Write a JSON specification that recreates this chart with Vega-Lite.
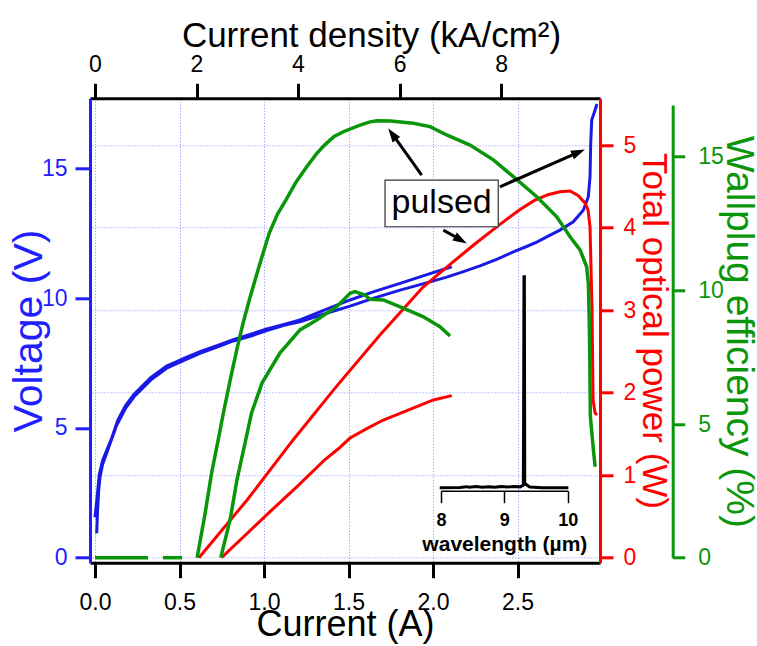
{
  "$schema": "https://vega.github.io/schema/vega-lite/v6.json",
  "width": 510,
  "height": 464.4,
  "autosize": {"type": "none"},
  "padding": {"left": 90, "top": 98.3, "right": 157, "bottom": 83.3},
  "background": "white",
  "config": {
    "font": "Liberation Sans",
    "view": {"stroke": null},
    "axis": {"labelFont": "Liberation Sans", "titleFont": "Liberation Sans", "labelFlush": false, "labelOverlap": false, "grid": false, "titleFontWeight": "normal"}
  },
  "datasets": {
    "curves": [
      {"q": "V", "run": "pulsed", "I": 0.010, "y": 0.94},
      {"q": "V", "run": "pulsed", "I": 0.015, "y": 1.8},
      {"q": "V", "run": "pulsed", "I": 0.022, "y": 2.6},
      {"q": "V", "run": "pulsed", "I": 0.030, "y": 3.12},
      {"q": "V", "run": "pulsed", "I": 0.045, "y": 3.6},
      {"q": "V", "run": "pulsed", "I": 0.069, "y": 4.02},
      {"q": "V", "run": "pulsed", "I": 0.089, "y": 4.40},
      {"q": "V", "run": "pulsed", "I": 0.128, "y": 5.10},
      {"q": "V", "run": "pulsed", "I": 0.180, "y": 5.75},
      {"q": "V", "run": "pulsed", "I": 0.231, "y": 6.20},
      {"q": "V", "run": "pulsed", "I": 0.331, "y": 6.85},
      {"q": "V", "run": "pulsed", "I": 0.424, "y": 7.30},
      {"q": "V", "run": "pulsed", "I": 0.533, "y": 7.62},
      {"q": "V", "run": "pulsed", "I": 0.621, "y": 7.87},
      {"q": "V", "run": "pulsed", "I": 0.730, "y": 8.13},
      {"q": "V", "run": "pulsed", "I": 0.818, "y": 8.35},
      {"q": "V", "run": "pulsed", "I": 0.927, "y": 8.55},
      {"q": "V", "run": "pulsed", "I": 1.016, "y": 8.75},
      {"q": "V", "run": "pulsed", "I": 1.124, "y": 8.96},
      {"q": "V", "run": "pulsed", "I": 1.213, "y": 9.09},
      {"q": "V", "run": "pulsed", "I": 1.360, "y": 9.40},
      {"q": "V", "run": "pulsed", "I": 1.509, "y": 9.69},
      {"q": "V", "run": "pulsed", "I": 1.650, "y": 10.00},
      {"q": "V", "run": "pulsed", "I": 1.805, "y": 10.31},
      {"q": "V", "run": "pulsed", "I": 1.950, "y": 10.57},
      {"q": "V", "run": "pulsed", "I": 2.081, "y": 10.81},
      {"q": "V", "run": "pulsed", "I": 2.180, "y": 11.02},
      {"q": "V", "run": "pulsed", "I": 2.278, "y": 11.24},
      {"q": "V", "run": "pulsed", "I": 2.380, "y": 11.50},
      {"q": "V", "run": "pulsed", "I": 2.475, "y": 11.78},
      {"q": "V", "run": "pulsed", "I": 2.550, "y": 11.98},
      {"q": "V", "run": "pulsed", "I": 2.614, "y": 12.16},
      {"q": "V", "run": "pulsed", "I": 2.690, "y": 12.42},
      {"q": "V", "run": "pulsed", "I": 2.751, "y": 12.62},
      {"q": "V", "run": "pulsed", "I": 2.830, "y": 12.94},
      {"q": "V", "run": "pulsed", "I": 2.889, "y": 13.39},
      {"q": "V", "run": "pulsed", "I": 2.919, "y": 13.91},
      {"q": "V", "run": "pulsed", "I": 2.929, "y": 14.68},
      {"q": "V", "run": "pulsed", "I": 2.933, "y": 15.96},
      {"q": "V", "run": "pulsed", "I": 2.939, "y": 16.86},
      {"q": "V", "run": "pulsed", "I": 2.959, "y": 17.25},
      {"q": "V", "run": "pulsed", "I": 2.970, "y": 17.48},
      {"q": "V", "run": "cw", "I": 0.000, "y": 1.55},
      {"q": "V", "run": "cw", "I": 0.012, "y": 2.3},
      {"q": "V", "run": "cw", "I": 0.025, "y": 3.2},
      {"q": "V", "run": "cw", "I": 0.045, "y": 3.75},
      {"q": "V", "run": "cw", "I": 0.070, "y": 4.15},
      {"q": "V", "run": "cw", "I": 0.100, "y": 4.62},
      {"q": "V", "run": "cw", "I": 0.135, "y": 5.30},
      {"q": "V", "run": "cw", "I": 0.180, "y": 5.85},
      {"q": "V", "run": "cw", "I": 0.231, "y": 6.30},
      {"q": "V", "run": "cw", "I": 0.331, "y": 6.95},
      {"q": "V", "run": "cw", "I": 0.424, "y": 7.38},
      {"q": "V", "run": "cw", "I": 0.533, "y": 7.70},
      {"q": "V", "run": "cw", "I": 0.621, "y": 7.94},
      {"q": "V", "run": "cw", "I": 0.730, "y": 8.19},
      {"q": "V", "run": "cw", "I": 0.818, "y": 8.40},
      {"q": "V", "run": "cw", "I": 0.927, "y": 8.62},
      {"q": "V", "run": "cw", "I": 1.016, "y": 8.81},
      {"q": "V", "run": "cw", "I": 1.124, "y": 9.00},
      {"q": "V", "run": "cw", "I": 1.213, "y": 9.16},
      {"q": "V", "run": "cw", "I": 1.360, "y": 9.55},
      {"q": "V", "run": "cw", "I": 1.509, "y": 9.93},
      {"q": "V", "run": "cw", "I": 1.650, "y": 10.25},
      {"q": "V", "run": "cw", "I": 1.805, "y": 10.57},
      {"q": "V", "run": "cw", "I": 1.950, "y": 10.88},
      {"q": "V", "run": "cw", "I": 2.111, "y": 11.21},
      {"q": "P", "run": "pulsed", "I": 0.615, "y": 0},
      {"q": "P", "run": "pulsed", "I": 0.900, "y": 0.70},
      {"q": "P", "run": "pulsed", "I": 1.172, "y": 1.427},
      {"q": "P", "run": "pulsed", "I": 1.430, "y": 2.08},
      {"q": "P", "run": "pulsed", "I": 1.686, "y": 2.70},
      {"q": "P", "run": "pulsed", "I": 1.941, "y": 3.281},
      {"q": "P", "run": "pulsed", "I": 2.083, "y": 3.524},
      {"q": "P", "run": "pulsed", "I": 2.240, "y": 3.79},
      {"q": "P", "run": "pulsed", "I": 2.396, "y": 4.04},
      {"q": "P", "run": "pulsed", "I": 2.515, "y": 4.22},
      {"q": "P", "run": "pulsed", "I": 2.600, "y": 4.33},
      {"q": "P", "run": "pulsed", "I": 2.680, "y": 4.40},
      {"q": "P", "run": "pulsed", "I": 2.751, "y": 4.435},
      {"q": "P", "run": "pulsed", "I": 2.811, "y": 4.445},
      {"q": "P", "run": "pulsed", "I": 2.858, "y": 4.39},
      {"q": "P", "run": "pulsed", "I": 2.899, "y": 4.30},
      {"q": "P", "run": "pulsed", "I": 2.917, "y": 4.215},
      {"q": "P", "run": "pulsed", "I": 2.929, "y": 4.009},
      {"q": "P", "run": "pulsed", "I": 2.935, "y": 3.488},
      {"q": "P", "run": "pulsed", "I": 2.941, "y": 3.002},
      {"q": "P", "run": "pulsed", "I": 2.947, "y": 1.912},
      {"q": "P", "run": "pulsed", "I": 2.959, "y": 1.754},
      {"q": "P", "run": "pulsed", "I": 2.970, "y": 1.730},
      {"q": "P", "run": "cw", "I": 0.749, "y": 0},
      {"q": "P", "run": "cw", "I": 1.025, "y": 0.538},
      {"q": "P", "run": "cw", "I": 1.200, "y": 0.87},
      {"q": "P", "run": "cw", "I": 1.361, "y": 1.19},
      {"q": "P", "run": "cw", "I": 1.440, "y": 1.32},
      {"q": "P", "run": "cw", "I": 1.509, "y": 1.45},
      {"q": "P", "run": "cw", "I": 1.608, "y": 1.565},
      {"q": "P", "run": "cw", "I": 1.706, "y": 1.669},
      {"q": "P", "run": "cw", "I": 1.805, "y": 1.750},
      {"q": "P", "run": "cw", "I": 1.904, "y": 1.830},
      {"q": "P", "run": "cw", "I": 2.002, "y": 1.912},
      {"q": "P", "run": "cw", "I": 2.111, "y": 1.964},
      {"q": "E", "run": "zero1", "I": 0.000, "y": 0},
      {"q": "E", "run": "zero1", "I": 0.314, "y": 0},
      {"q": "E", "run": "zero2", "I": 0.402, "y": 0},
      {"q": "E", "run": "zero2", "I": 0.515, "y": 0},
      {"q": "E", "run": "pulsed", "I": 0.604, "y": 0},
      {"q": "E", "run": "pulsed", "I": 0.650, "y": 1.6},
      {"q": "E", "run": "pulsed", "I": 0.690, "y": 3.17},
      {"q": "E", "run": "pulsed", "I": 0.735, "y": 4.60},
      {"q": "E", "run": "pulsed", "I": 0.756, "y": 5.30},
      {"q": "E", "run": "pulsed", "I": 0.800, "y": 6.65},
      {"q": "E", "run": "pulsed", "I": 0.838, "y": 7.75},
      {"q": "E", "run": "pulsed", "I": 0.875, "y": 8.75},
      {"q": "E", "run": "pulsed", "I": 0.913, "y": 9.64},
      {"q": "E", "run": "pulsed", "I": 0.970, "y": 10.88},
      {"q": "E", "run": "pulsed", "I": 1.031, "y": 12.14},
      {"q": "E", "run": "pulsed", "I": 1.080, "y": 12.85},
      {"q": "E", "run": "pulsed", "I": 1.130, "y": 13.38},
      {"q": "E", "run": "pulsed", "I": 1.190, "y": 14.05},
      {"q": "E", "run": "pulsed", "I": 1.253, "y": 14.62},
      {"q": "E", "run": "pulsed", "I": 1.310, "y": 15.10},
      {"q": "E", "run": "pulsed", "I": 1.361, "y": 15.45},
      {"q": "E", "run": "pulsed", "I": 1.415, "y": 15.75},
      {"q": "E", "run": "pulsed", "I": 1.469, "y": 15.93},
      {"q": "E", "run": "pulsed", "I": 1.568, "y": 16.18},
      {"q": "E", "run": "pulsed", "I": 1.627, "y": 16.30},
      {"q": "E", "run": "pulsed", "I": 1.667, "y": 16.34},
      {"q": "E", "run": "pulsed", "I": 1.750, "y": 16.33},
      {"q": "E", "run": "pulsed", "I": 1.883, "y": 16.25},
      {"q": "E", "run": "pulsed", "I": 1.982, "y": 16.12},
      {"q": "E", "run": "pulsed", "I": 2.081, "y": 15.81},
      {"q": "E", "run": "pulsed", "I": 2.219, "y": 15.43},
      {"q": "E", "run": "pulsed", "I": 2.357, "y": 14.88},
      {"q": "E", "run": "pulsed", "I": 2.475, "y": 14.25},
      {"q": "E", "run": "pulsed", "I": 2.614, "y": 13.50},
      {"q": "E", "run": "pulsed", "I": 2.732, "y": 12.75},
      {"q": "E", "run": "pulsed", "I": 2.811, "y": 12.00},
      {"q": "E", "run": "pulsed", "I": 2.870, "y": 11.51},
      {"q": "E", "run": "pulsed", "I": 2.909, "y": 10.88},
      {"q": "E", "run": "pulsed", "I": 2.919, "y": 10.26},
      {"q": "E", "run": "pulsed", "I": 2.924, "y": 9.00},
      {"q": "E", "run": "pulsed", "I": 2.927, "y": 7.77},
      {"q": "E", "run": "pulsed", "I": 2.931, "y": 5.27},
      {"q": "E", "run": "pulsed", "I": 2.949, "y": 4.03},
      {"q": "E", "run": "pulsed", "I": 2.959, "y": 3.40},
      {"q": "E", "run": "cw", "I": 0.744, "y": 0},
      {"q": "E", "run": "cw", "I": 0.799, "y": 1.41},
      {"q": "E", "run": "cw", "I": 0.840, "y": 2.91},
      {"q": "E", "run": "cw", "I": 0.888, "y": 4.29},
      {"q": "E", "run": "cw", "I": 0.926, "y": 5.41},
      {"q": "E", "run": "cw", "I": 0.988, "y": 6.53},
      {"q": "E", "run": "cw", "I": 1.095, "y": 7.66},
      {"q": "E", "run": "cw", "I": 1.213, "y": 8.52},
      {"q": "E", "run": "cw", "I": 1.312, "y": 8.89},
      {"q": "E", "run": "cw", "I": 1.430, "y": 9.39},
      {"q": "E", "run": "cw", "I": 1.509, "y": 9.89},
      {"q": "E", "run": "cw", "I": 1.538, "y": 9.95},
      {"q": "E", "run": "cw", "I": 1.598, "y": 9.82},
      {"q": "E", "run": "cw", "I": 1.627, "y": 9.66},
      {"q": "E", "run": "cw", "I": 1.706, "y": 9.64},
      {"q": "E", "run": "cw", "I": 1.824, "y": 9.33},
      {"q": "E", "run": "cw", "I": 1.943, "y": 9.01},
      {"q": "E", "run": "cw", "I": 2.041, "y": 8.64},
      {"q": "E", "run": "cw", "I": 2.101, "y": 8.29}
    ],
    "spectrum": [
      {"lambda": 7.98, "S": 0.0},
      {"lambda": 8.30, "S": 0.001},
      {"lambda": 8.40, "S": 0.005},
      {"lambda": 8.45, "S": 0.002},
      {"lambda": 8.55, "S": 0.006},
      {"lambda": 8.65, "S": 0.002},
      {"lambda": 8.75, "S": 0.005},
      {"lambda": 8.85, "S": 0.002},
      {"lambda": 8.95, "S": 0.006},
      {"lambda": 9.05, "S": 0.003},
      {"lambda": 9.15, "S": 0.006},
      {"lambda": 9.25, "S": 0.004},
      {"lambda": 9.300, "S": 0.012},
      {"lambda": 9.306, "S": 0.55},
      {"lambda": 9.310, "S": 1.0},
      {"lambda": 9.316, "S": 1.0},
      {"lambda": 9.322, "S": 0.02},
      {"lambda": 9.40, "S": 0.003},
      {"lambda": 9.60, "S": 0.0},
      {"lambda": 10.01, "S": 0.0}
    ],
    "arrows": [
      {"I": 1.933, "V": 14.74, "I2": 1.763, "V2": 16.29, "tipI": 1.735, "tipV": 16.54, "angle": 324.4},
      {"I": 2.396, "V": 14.29, "I2": 2.856, "V2": 15.61, "tipI": 2.899, "tipV": 15.73, "angle": 66.3},
      {"I": 2.061, "V": 12.62, "I2": 2.158, "V2": 12.27, "tipI": 2.200, "tipV": 12.11, "angle": 119.6}
    ],
    "label": [
      {"I": 1.716, "I2": 2.386, "V": 12.75, "V2": 14.55, "Ic": 2.051, "Vc": 13.65, "text": "pulsed"}
    ],
    "density": [
      {"J": 0},
      {"J": 8}
    ]
  },
  "layer": [
    {
      "data": {"name": "density"},
      "mark": {"type": "rule", "opacity": 0},
      "encoding": {
        "x": {
          "field": "J", "type": "quantitative",
          "scale": {"domain": [-0.0985, 9.95], "nice": false, "zero": false},
          "axis": {
            "orient": "top", "values": [0, 2, 4, 6, 8], "format": "d",
            "domainColor": "black", "domainWidth": 3,
            "tickColor": "black", "tickWidth": 3, "tickSize": 15,
            "labelColor": "black", "labelFontSize": 23, "labelPadding": 7,
            "title": "Current density (kA/cm²)", "titleColor": "black", "titleFontSize": 35, "titlePadding": 0, "titleX": 281
          }
        }
      }
    },
    {
      "data": {"name": "curves"},
      "transform": [{"filter": "datum.q === 'V'"}],
      "mark": {"type": "line", "color": "#1a1ae6", "strokeWidth": 3},
      "encoding": {
        "x": {
          "field": "I", "type": "quantitative",
          "scale": {"domain": [-0.0296, 2.988], "nice": false, "zero": false},
          "axis": {
            "orient": "bottom", "values": [0, 0.5, 1, 1.5, 2, 2.5], "format": ".1f",
            "domainColor": "black", "domainWidth": 3,
            "tickColor": "black", "tickWidth": 3, "tickSize": 15,
            "labelColor": "black", "labelFontSize": 23, "labelPadding": 14,
            "title": "Current (A)", "titleColor": "black", "titleFontSize": 36, "titlePadding": -7,
            "grid": true, "gridColor": "#8a8aff", "gridDash": [1, 2], "gridWidth": 1
          }
        },
        "y": {
          "field": "y", "type": "quantitative",
          "scale": {"domain": [-0.193, 17.70], "nice": false, "zero": false},
          "axis": {
            "orient": "left", "values": [0, 5, 10, 15], "format": "d",
            "domainColor": "#1f1fff", "domainWidth": 3,
            "tickColor": "#1f1fff", "tickWidth": 3, "tickSize": 15,
            "labelColor": "#1f1fff", "labelFontSize": 23, "labelPadding": 8,
            "title": "Voltage (V)", "titleColor": "#1f1fff", "titleFontSize": 41, "titlePadding": -9
          }
        },
        "detail": {"field": "run"}
      }
    },
    {
      "data": {"name": "curves"},
      "transform": [{"filter": "datum.q === 'P'"}],
      "mark": {"type": "line", "color": "#ff0000", "strokeWidth": 3},
      "encoding": {
        "x": {
          "field": "I", "type": "quantitative",
          "scale": {"domain": [-0.0296, 2.988], "nice": false, "zero": false},
          "axis": null
        },
        "y": {
          "field": "y", "type": "quantitative",
          "scale": {"domain": [-0.0606, 5.568], "nice": false, "zero": false},
          "axis": {
            "orient": "right", "values": [0, 1, 2, 3, 4, 5], "format": "d",
            "domainColor": "#ff0000", "domainWidth": 3,
            "tickColor": "#ff0000", "tickWidth": 3, "tickSize": 13,
            "labelColor": "#ff0000", "labelFontSize": 23, "labelPadding": 10,
            "title": "Total optical power (W)", "titleColor": "#ff0000", "titleFontSize": 35, "titlePadding": 0,
            "grid": true, "gridColor": "#8a8aff", "gridDash": [1, 2], "gridWidth": 1
          }
        },
        "detail": {"field": "run"}
      }
    },
    {
      "data": {"name": "curves"},
      "transform": [{"filter": "datum.q === 'E'"}],
      "mark": {"type": "line", "color": "#0a960a", "strokeWidth": 3.5},
      "encoding": {
        "x": {
          "field": "I", "type": "quantitative",
          "scale": {"domain": [-0.0296, 2.988], "nice": false, "zero": false},
          "axis": null
        },
        "y": {
          "field": "y", "type": "quantitative",
          "scale": {"domain": [0, 16.93], "range": [459.4, 6.7], "nice": false, "zero": false},
          "axis": {
            "orient": "right", "offset": 72.7, "values": [0, 5, 10, 15], "format": "d",
            "domainColor": "#0a960a", "domainWidth": 3,
            "tickColor": "#0a960a", "tickWidth": 3, "tickSize": 12,
            "labelColor": "#0a960a", "labelFontSize": 23, "labelPadding": 13,
            "title": "Wallplug efficiency (%)", "titleColor": "#0a960a", "titleFontSize": 39, "titlePadding": -5
          }
        },
        "detail": {"field": "run"}
      }
    },
    {
      "data": {"name": "spectrum"},
      "mark": {"type": "line", "color": "black", "strokeWidth": 3},
      "encoding": {
        "x": {
          "field": "lambda", "type": "quantitative",
          "scale": {"domain": [8, 10], "range": [351, 477.7], "nice": false, "zero": false},
          "axis": {
            "orient": "bottom", "offset": -72, "tickCount": 2, "format": "d",
            "domainColor": "black", "domainWidth": 1.5,
            "tickColor": "black", "tickWidth": 1.5, "tickSize": 12,
            "labelColor": "black", "labelFontSize": 18, "labelFontWeight": "bold", "labelPadding": 9,
            "title": "wavelength (µm)", "titleColor": "black", "titleFontSize": 21, "titleFontWeight": "bold", "titlePadding": 4
          }
        },
        "y": {
          "field": "S", "type": "quantitative",
          "scale": {"domain": [0, 1], "range": [389.4, 178.4], "nice": false, "zero": false},
          "axis": null
        }
      }
    },
    {
      "data": {"name": "label"},
      "mark": {"type": "rect", "fill": "white", "stroke": "#333333", "strokeWidth": 1.2},
      "encoding": {
        "x": {"field": "I", "type": "quantitative", "scale": {"domain": [-0.0296, 2.988], "nice": false, "zero": false}, "axis": null},
        "x2": {"field": "I2"},
        "y": {"field": "V", "type": "quantitative", "scale": {"domain": [-0.193, 17.70], "nice": false, "zero": false}, "axis": null},
        "y2": {"field": "V2"}
      }
    },
    {
      "data": {"name": "label"},
      "mark": {"type": "text", "fontSize": 34, "font": "Liberation Sans", "color": "black", "align": "center", "baseline": "middle"},
      "encoding": {
        "x": {"field": "Ic", "type": "quantitative", "scale": {"domain": [-0.0296, 2.988], "nice": false, "zero": false}, "axis": null},
        "y": {"field": "Vc", "type": "quantitative", "scale": {"domain": [-0.193, 17.70], "nice": false, "zero": false}, "axis": null},
        "text": {"field": "text"}
      }
    },
    {
      "data": {"name": "arrows"},
      "mark": {"type": "rule", "color": "black", "strokeWidth": 3},
      "encoding": {
        "x": {"field": "I", "type": "quantitative", "scale": {"domain": [-0.0296, 2.988], "nice": false, "zero": false}, "axis": null},
        "x2": {"field": "I2"},
        "y": {"field": "V", "type": "quantitative", "scale": {"domain": [-0.193, 17.70], "nice": false, "zero": false}, "axis": null},
        "y2": {"field": "V2"}
      }
    },
    {
      "data": {"name": "arrows"},
      "mark": {"type": "point", "shape": "M0,0L-0.33,1L0.33,1Z", "filled": true, "color": "black", "opacity": 1, "size": 784, "strokeWidth": 0},
      "encoding": {
        "x": {"field": "tipI", "type": "quantitative", "scale": {"domain": [-0.0296, 2.988], "nice": false, "zero": false}, "axis": null},
        "y": {"field": "tipV", "type": "quantitative", "scale": {"domain": [-0.193, 17.70], "nice": false, "zero": false}, "axis": null},
        "angle": {"field": "angle", "type": "quantitative", "scale": null}
      }
    }
  ],
  "resolve": {"scale": {"x": "independent", "y": "independent"}, "axis": {"x": "independent", "y": "independent"}}
}
